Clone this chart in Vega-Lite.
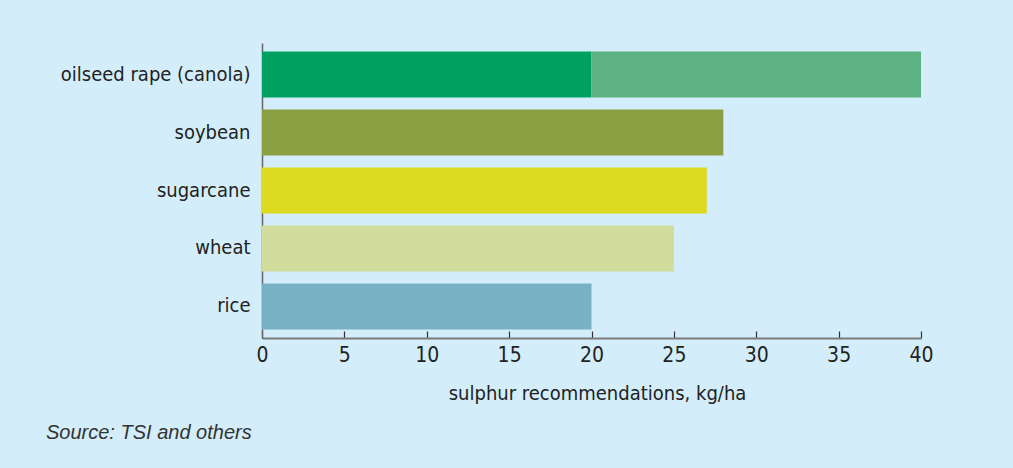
{
  "$schema": "https://vega.github.io/schema/vega-lite/v6.json",
  "width": 659,
  "height": 295,
  "autosize": {"type": "none"},
  "padding": {"left": 262, "top": 43, "right": 92, "bottom": 130},
  "background": "#d3eefa",
  "config": {
    "view": {"stroke": null},
    "font": "DejaVu Sans Condensed, sans-serif"
  },
  "title": {
    "text": "Source: TSI and others",
    "orient": "bottom",
    "anchor": "start",
    "frame": "group",
    "dx": -216,
    "offset": 20,
    "fontSize": 20,
    "fontStyle": "italic",
    "fontWeight": "normal",
    "color": "#333333",
    "font": "Liberation Sans, sans-serif"
  },
  "data": {
    "values": [
      {"crop": "oilseed rape (canola)", "start": 0, "end": 20, "segment": "canola-a"},
      {"crop": "oilseed rape (canola)", "start": 20, "end": 40, "segment": "canola-b"},
      {"crop": "soybean", "start": 0, "end": 28, "segment": "soybean"},
      {"crop": "sugarcane", "start": 0, "end": 27, "segment": "sugarcane"},
      {"crop": "wheat", "start": 0, "end": 25, "segment": "wheat"},
      {"crop": "rice", "start": 0, "end": 20, "segment": "rice"}
    ]
  },
  "mark": {"type": "bar"},
  "encoding": {
    "y": {
      "field": "crop",
      "type": "nominal",
      "sort": ["oilseed rape (canola)", "soybean", "sugarcane", "wheat", "rice"],
      "scale": {"paddingInner": 0.207, "paddingOuter": 0.147},
      "axis": {
        "title": null,
        "ticks": false,
        "domainColor": "#666666",
        "domainWidth": 1.5,
        "labelFontSize": 20,
        "labelLimit": 0,
        "labelColor": "#222222",
        "labelPadding": 12
      }
    },
    "x": {
      "field": "start",
      "type": "quantitative",
      "scale": {"domain": [0, 40], "nice": false},
      "axis": {
        "title": "sulphur recommendations, kg/ha",
        "values": [0, 5, 10, 15, 20, 25, 30, 35, 40],
        "grid": false,
        "tickSize": -7,
        "tickColor": "#333333",
        "tickWidth": 1.2,
        "domainColor": "#7a7a7a",
        "domainWidth": 2,
        "labelFlush": false,
        "labelBound": false,
        "labelFontSize": 21,
        "labelColor": "#222222",
        "labelPadding": 13,
        "titleFontSize": 20,
        "titleFontWeight": "normal",
        "titleColor": "#222222",
        "titlePadding": 18,
        "titleX": 335
      }
    },
    "x2": {"field": "end"},
    "color": {
      "field": "segment",
      "type": "nominal",
      "scale": {
        "domain": ["canola-a", "canola-b", "soybean", "sugarcane", "wheat", "rice"],
        "range": ["#00a262", "#5cb283", "#8ba043", "#dcdb21", "#d2dc9c", "#78b1c3"]
      },
      "legend": null
    }
  }
}
